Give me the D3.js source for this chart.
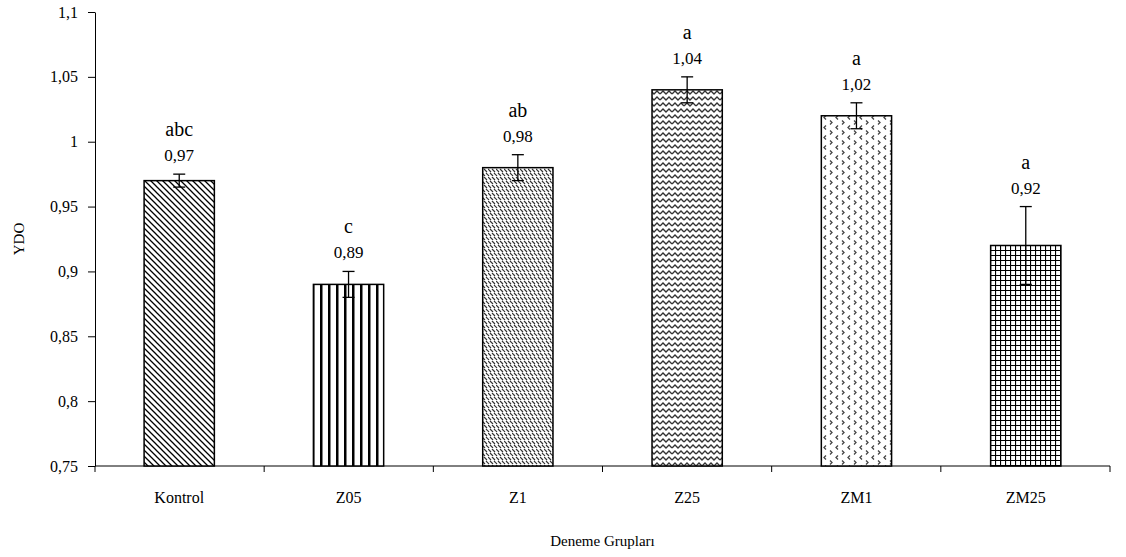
<!DOCTYPE html>
<html>
<head>
<meta charset="utf-8">
<script src="https://cdn.jsdelivr.net/npm/d3@7"></script>
<style>
  body { margin: 0; background: #fff; }
  .axis path, .axis line { stroke: #000; stroke-width: 1; }
</style>
</head>
<body>
<svg id="chart" width="1126" height="557"></svg>
<script>
// data
const categories = ["Kontrol", "Z05", "Z1", "Z25", "ZM1", "ZM25"];
const values = [0.97, 0.89, 0.98, 1.04, 1.02, 0.92];
const errors = [0.005, 0.01, 0.01, 0.01, 0.01, 0.03];
const letters = ["abc", "c", "ab", "a", "a", "a"];
const valueLabels = ["0,97", "0,89", "0,98", "1,04", "1,02", "0,92"];
const yTicks = [0.75, 0.8, 0.85, 0.9, 0.95, 1, 1.05, 1.1];
const patterns = ["diag", "vert", "dash", "wave", "dots", "grid"];

const serif = "'Liberation Serif', 'Times New Roman', Times, serif";
const svg = d3.select('#chart').attr('font-family', serif);
const plotLeft = 95, plotRight = 1110, plotTop = 12, plotBottom = 466;

const xScale = d3.scaleBand()
  .domain(categories)
  .range([plotLeft, plotRight])
  .paddingInner(0.585)
  .paddingOuter(0.29);

const yScale = d3.scaleLinear()
  .domain([0.75, 1.1])
  .range([plotBottom, plotTop]);

// fill patterns
const defs = svg.append('defs');

let p = defs.append('pattern').attr('id', 'diag').attr('patternUnits', 'userSpaceOnUse')
  .attr('width', 6).attr('height', 6);
p.append('path').attr('d', 'M-1,-1 L7,7 M-4,2 L4,10 M2,-4 L10,4')
  .attr('stroke', '#000').attr('stroke-width', 1.3);

p = defs.append('pattern').attr('id', 'vert').attr('patternUnits', 'userSpaceOnUse')
  .attr('width', 8).attr('height', 8);
p.append('rect').attr('x', 0).attr('y', 0).attr('width', 2.5).attr('height', 8).attr('fill', '#000');

p = defs.append('pattern').attr('id', 'dash').attr('patternUnits', 'userSpaceOnUse')
  .attr('width', 8).attr('height', 8);
p.append('path').attr('d', 'M0,1 L3,4 M4,1 L7,4 M2,5 L5,8 M6,5 L9,8 M-2,5 L1,8')
  .attr('stroke', '#333').attr('stroke-width', 1.2);

p = defs.append('pattern').attr('id', 'wave').attr('patternUnits', 'userSpaceOnUse')
  .attr('width', 12).attr('height', 6);
p.append('path').attr('d', 'M0,4 L3,1 L6,4 L9,1 L12,4')
  .attr('fill', 'none').attr('stroke', '#333').attr('stroke-width', 1.4);

p = defs.append('pattern').attr('id', 'dots').attr('patternUnits', 'userSpaceOnUse')
  .attr('width', 12).attr('height', 10);
p.append('path').attr('d', 'M2,0.5 L4,2.5 L2,4.5 M10,5.5 L8,7.5 L10,9.5')
  .attr('fill', 'none').attr('stroke', '#444').attr('stroke-width', 1.3);

p = defs.append('pattern').attr('id', 'grid').attr('patternUnits', 'userSpaceOnUse')
  .attr('width', 5).attr('height', 5);
p.append('path').attr('d', 'M0,0.5 H5 M0.5,0 V5')
  .attr('stroke', '#000').attr('stroke-width', 1.2);

// y axis
svg.append('g')
  .attr('class', 'axis')
  .attr('transform', `translate(${plotLeft},0)`)
  .call(d3.axisLeft(yScale).tickValues(yTicks).tickSize(7).tickSizeOuter(0)
    .tickFormat(d => d3.format('')(d).replace('.', ',')))
  .call(g => g.attr('font-family', serif))
  .call(g => g.selectAll('text').attr('font-size', 16).attr('x', -17));

// x axis with ticks at category boundaries
const xAxis = svg.append('g').attr('class', 'axis');
xAxis.append('line')
  .attr('x1', plotLeft).attr('x2', plotRight)
  .attr('y1', plotBottom).attr('y2', plotBottom)
  .attr('stroke', '#000');
const bounds = d3.range(categories.length + 1).map(i => plotLeft + i * (plotRight - plotLeft) / categories.length);
xAxis.selectAll('.bt').data(bounds).enter().append('line')
  .attr('x1', d => d).attr('x2', d => d)
  .attr('y1', plotBottom).attr('y2', plotBottom + 6)
  .attr('stroke', '#000');
xAxis.selectAll('.cl').data(categories).enter().append('text')
  .attr('x', d => xScale(d) + xScale.bandwidth() / 2)
  .attr('y', 503)
  .attr('text-anchor', 'middle')
  .attr('font-size', 16)
  .text(d => d);

// bars
const bars = svg.selectAll('.bar').data(categories).enter().append('g');

bars.append('rect')
  .attr('x', d => xScale(d))
  .attr('y', (d, i) => yScale(values[i]))
  .attr('width', xScale.bandwidth())
  .attr('height', (d, i) => plotBottom - yScale(values[i]))
  .attr('fill', '#fff');

bars.append('rect')
  .attr('x', d => xScale(d))
  .attr('y', (d, i) => yScale(values[i]))
  .attr('width', xScale.bandwidth())
  .attr('height', (d, i) => plotBottom - yScale(values[i]))
  .attr('fill', (d, i) => `url(#${patterns[i]})`)
  .attr('stroke', '#000')
  .attr('stroke-width', 1.5);

// error bars
const cx = d => xScale(d) + xScale.bandwidth() / 2;
bars.append('line')
  .attr('x1', cx).attr('x2', cx)
  .attr('y1', (d, i) => yScale(values[i] - errors[i]))
  .attr('y2', (d, i) => yScale(values[i] + errors[i]))
  .attr('stroke', '#000').attr('stroke-width', 1.3);
[-1, 1].forEach(s => {
  bars.append('line')
    .attr('x1', d => cx(d) - 6).attr('x2', d => cx(d) + 6)
    .attr('y1', (d, i) => yScale(values[i] + s * errors[i]))
    .attr('y2', (d, i) => yScale(values[i] + s * errors[i]))
    .attr('stroke', '#000').attr('stroke-width', 1.3);
});

// value and letter labels
bars.append('text')
  .attr('x', cx)
  .attr('y', (d, i) => yScale(values[i] + errors[i]) - 13)
  .attr('text-anchor', 'middle')
  .attr('font-size', 17)
  .text((d, i) => valueLabels[i]);

bars.append('text')
  .attr('x', cx)
  .attr('y', (d, i) => yScale(values[i] + errors[i]) - 38)
  .attr('text-anchor', 'middle')
  .attr('font-size', 20)
  .text((d, i) => letters[i]);

// axis titles
svg.append('text')
  .attr('transform', `translate(24, ${(plotTop + plotBottom) / 2}) rotate(-90)`)
  .attr('text-anchor', 'middle')
  .attr('font-size', 15)
  .text('YDO');

svg.append('text')
  .attr('x', (plotLeft + plotRight) / 2)
  .attr('y', 546)
  .attr('text-anchor', 'middle')
  .attr('font-size', 15)
  .text('Deneme Grupları');
</script>
</body>
</html>
